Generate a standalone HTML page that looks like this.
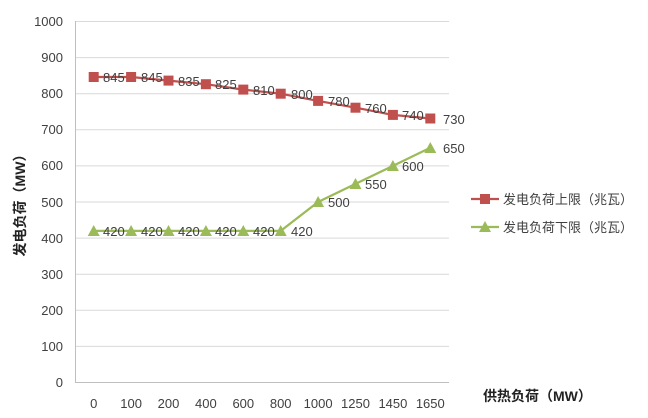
<!DOCTYPE html>
<html><head><meta charset="utf-8"><style>
html,body{margin:0;padding:0;background:#fff;}
svg{display:block;}
text{font-family:"Liberation Sans","Noto Sans CJK SC",sans-serif;}
</style></head><body>
<svg width="648" height="418" xmlns="http://www.w3.org/2000/svg">
<g stroke="#d9d9d9" stroke-width="1">
<line x1="75" x2="449" y1="21.5" y2="21.5"/><line x1="75" x2="449" y1="57.6" y2="57.6"/>
<line x1="75" x2="449" y1="93.7" y2="93.7"/><line x1="75" x2="449" y1="129.8" y2="129.8"/>
<line x1="75" x2="449" y1="165.9" y2="165.9"/><line x1="75" x2="449" y1="202" y2="202"/>
<line x1="75" x2="449" y1="238.1" y2="238.1"/><line x1="75" x2="449" y1="274.2" y2="274.2"/>
<line x1="75" x2="449" y1="310.3" y2="310.3"/><line x1="75" x2="449" y1="346.4" y2="346.4"/>
</g>
<line x1="75" x2="449" y1="382.5" y2="382.5" stroke="#bfbfbf"/>
<line x1="75.5" x2="75.5" y1="21" y2="382" stroke="#bfbfbf"/>
<g font-size="13" fill="#404040" text-anchor="end">
<text x="63" y="26">1000</text><text x="63" y="62">900</text><text x="63" y="98">800</text>
<text x="63" y="134">700</text><text x="63" y="170">600</text><text x="63" y="207">500</text>
<text x="63" y="243">400</text><text x="63" y="279">300</text><text x="63" y="315">200</text>
<text x="63" y="351">100</text><text x="63" y="387">0</text>
</g>
<g font-size="13" fill="#404040" text-anchor="middle">
<text x="93.7" y="408">0</text><text x="131.1" y="408">100</text><text x="168.5" y="408">200</text>
<text x="205.9" y="408">400</text><text x="243.3" y="408">600</text><text x="280.7" y="408">800</text>
<text x="318.1" y="408">1000</text><text x="355.5" y="408">1250</text><text x="392.9" y="408">1450</text>
<text x="430.3" y="408">1650</text>
</g>
<text transform="translate(25,202) rotate(-90)" font-size="14" font-weight="bold" fill="#222" text-anchor="middle">发电负荷（MW）</text>
<text x="483" y="401" font-size="14" font-weight="bold" fill="#222">供热负荷（MW）</text>
<polyline fill="none" stroke="#c0504d" stroke-width="2.2" points="93.7,77 131.1,77 168.5,80.6 205.9,84.2 243.3,89.6 280.7,93.7 318.1,100.9 355.5,107.7 392.9,114.9 430.3,118.5"/>
<g fill="#c0504d">
<rect x="88.7" y="72" width="10" height="10"/><rect x="126.1" y="72" width="10" height="10"/>
<rect x="163.5" y="75.6" width="10" height="10"/><rect x="200.9" y="79.2" width="10" height="10"/>
<rect x="238.3" y="84.6" width="10" height="10"/><rect x="275.7" y="88.7" width="10" height="10"/>
<rect x="313.1" y="95.9" width="10" height="10"/><rect x="350.5" y="102.7" width="10" height="10"/>
<rect x="387.9" y="109.9" width="10" height="10"/><rect x="425.3" y="113.5" width="10" height="10"/>
</g>
<polyline fill="none" stroke="#9bbb59" stroke-width="2.2" points="93.7,230.9 131.1,230.9 168.5,230.9 205.9,230.9 243.3,230.9 280.7,230.9 318.1,202 355.5,183.9 392.9,165.9 430.3,147.8"/>
<g fill="#9bbb59">
<polygon points="93.7,225 87.7,236 99.7,236"/><polygon points="131.1,225 125.1,236 137.1,236"/>
<polygon points="168.5,225 162.5,236 174.5,236"/><polygon points="205.9,225 199.9,236 211.9,236"/>
<polygon points="243.3,225 237.3,236 249.3,236"/><polygon points="280.7,225 274.7,236 286.7,236"/>
<polygon points="318.1,196 312.1,207 324.1,207"/><polygon points="355.5,178 349.5,189 361.5,189"/>
<polygon points="392.9,160 386.9,171 398.9,171"/><polygon points="430.3,142 424.3,153 436.3,153"/>
</g>
<g font-size="13" fill="#404040">
<text x="103" y="82">845</text><text x="141" y="82">845</text><text x="178" y="86">835</text>
<text x="215" y="89">825</text><text x="253" y="95">810</text><text x="291" y="99">800</text>
<text x="328" y="106">780</text><text x="365" y="113">760</text><text x="402" y="120">740</text>
<text x="443" y="124">730</text>
<text x="103" y="236">420</text><text x="141" y="236">420</text><text x="178" y="236">420</text>
<text x="215" y="236">420</text><text x="253" y="236">420</text><text x="291" y="236">420</text>
<text x="328" y="207">500</text><text x="365" y="189">550</text><text x="402" y="171">600</text>
<text x="443" y="153">650</text>
</g>
<line x1="471" x2="499" y1="199" y2="199" stroke="#c0504d" stroke-width="2.2"/>
<rect x="480" y="194" width="10" height="10" fill="#c0504d"/>
<text x="503" y="204" font-size="13" fill="#404040">发电负荷上限（兆瓦）</text>
<line x1="471" x2="499" y1="227" y2="227" stroke="#9bbb59" stroke-width="2.2"/>
<polygon points="485,221 479,232 491,232" fill="#9bbb59"/>
<text x="503" y="232" font-size="13" fill="#404040">发电负荷下限（兆瓦）</text>
</svg>
</body></html>
